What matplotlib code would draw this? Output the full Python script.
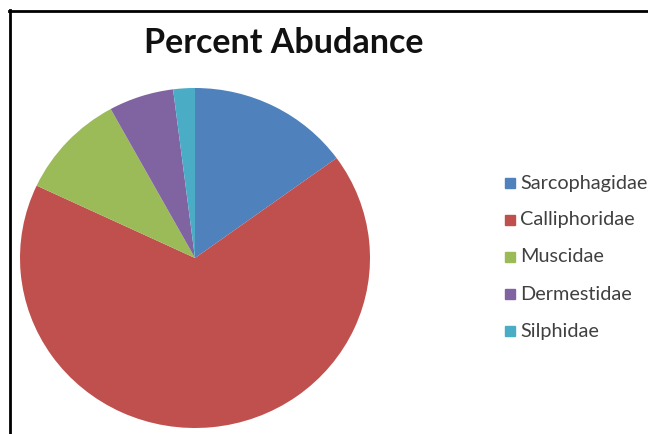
import matplotlib.pyplot as plt
from matplotlib.lines import Line2D

# data
families = ['Sarcophagidae', 'Calliphoridae', 'Muscidae', 'Dermestidae', 'Silphidae']
percent = [15, 67, 10, 6, 2]
colors = ['#4F81BD', '#C0504D', '#9BBB59', '#8064A2', '#4BACC6']

plt.rcParams['font.family'] = ['Lato', 'DejaVu Sans']

fig = plt.figure(figsize=(6.48, 4.34), dpi=100)

# pie area (pixel box from the reference)
W, H = 648, 434
ax = fig.add_axes([20 / W, (H - 428) / H, 350 / W, 340 / H])
wedges, _ = ax.pie(percent, colors=colors, startangle=90, counterclock=False,
                   radius=1)
ax.set_aspect('auto')
ax.set_xlim(-1, 1)
ax.set_ylim(-1, 1)

fig.text(284 / W, 1 - 43 / H, 'Percent Abudance', ha='center', va='center',
         fontsize=24.5, fontweight='bold', color='#111111')

# legend
for i, (name, c) in enumerate(zip(families, colors)):
    y = 1 - (183 + 37 * i) / H
    fig.patches.append(plt.Rectangle((505 / W, y - 5 / H), 10 / W, 10 / H,
                                     transform=fig.transFigure, color=c))
    fig.text(520 / W, y, name, ha='left', va='center', fontsize=14.3,
             color='#404040')

# frame lines (top and left only)
fig.add_artist(Line2D([9 / W, 1], [1 - 11 / H, 1 - 11 / H], color='black',
                      lw=2, transform=fig.transFigure))
fig.add_artist(Line2D([10 / W, 10 / W], [0, 1 - 10 / H], color='black',
                      lw=2, transform=fig.transFigure))

fig.savefig('out.png', dpi=100)
